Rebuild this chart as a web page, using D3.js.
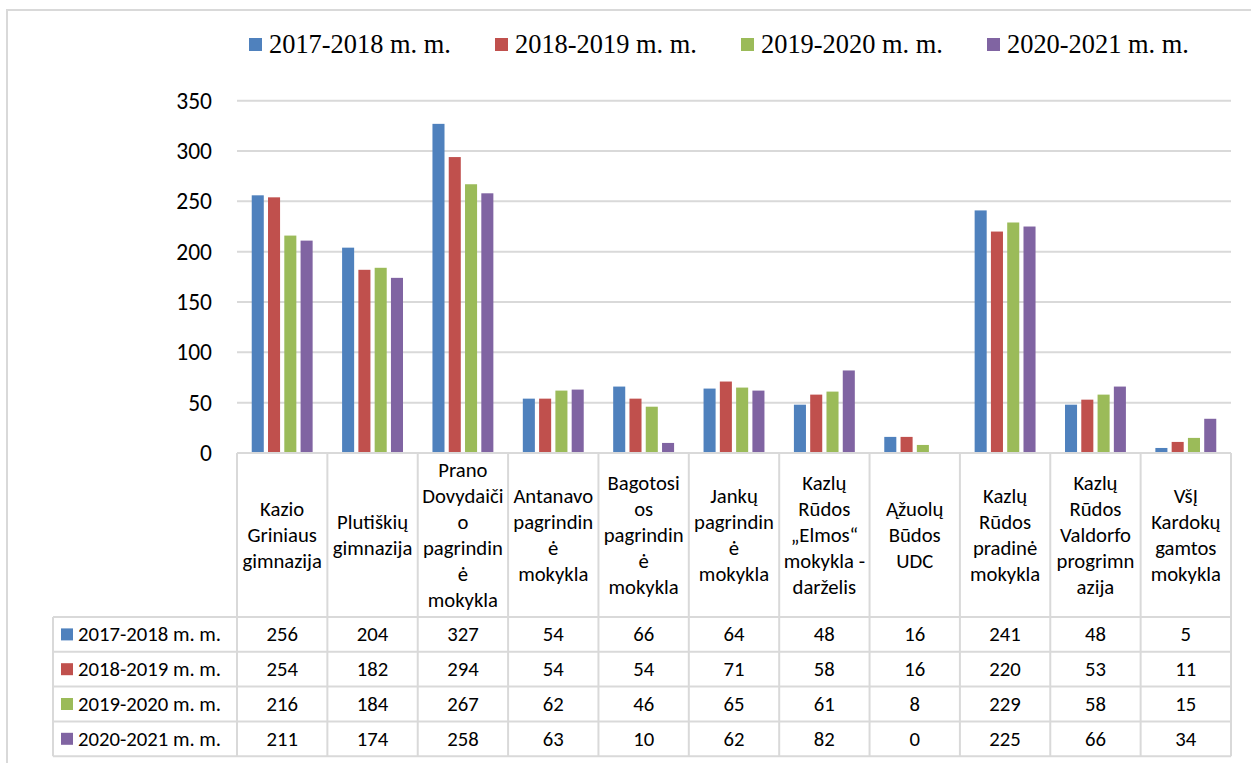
<!DOCTYPE html>
<html>
<head>
<meta charset="utf-8">
<script src="https://cdn.jsdelivr.net/npm/d3@7"></script>
<style>
  body { margin: 0; background: #fff; }
  svg { display: block; }
</style>
</head>
<body>
<div id="chart"></div>
<script>
// chart data
var categories = [
  "Kazio Griniaus gimnazija",
  "Plutiškių gimnazija",
  "Prano Dovydaičio pagrindinė mokykla",
  "Antanavo pagrindinė mokykla",
  "Bagotosios pagrindinė mokykla",
  "Jankų pagrindinė mokykla",
  "Kazlų Rūdos „Elmos“ mokykla - darželis",
  "Ąžuolų Būdos UDC",
  "Kazlų Rūdos pradinė mokykla",
  "Kazlų Rūdos Valdorfo progrimnazija",
  "VšĮ Kardokų gamtos mokykla"
];
// header lines as wrapped in the table
var categoryLines = [
  ["Kazio", "Griniaus", "gimnazija"],
  ["Plutiškių", "gimnazija"],
  ["Prano", "Dovydaiči", "o", "pagrindin", "ė", "mokykla"],
  ["Antanavo", "pagrindin", "ė", "mokykla"],
  ["Bagotosi", "os", "pagrindin", "ė", "mokykla"],
  ["Jankų", "pagrindin", "ė", "mokykla"],
  ["Kazlų", "Rūdos", "„Elmos“", "mokykla -", "darželis"],
  ["Ąžuolų", "Būdos", "UDC"],
  ["Kazlų", "Rūdos", "pradinė", "mokykla"],
  ["Kazlų", "Rūdos", "Valdorfo", "progrimn", "azija"],
  ["VšĮ", "Kardokų", "gamtos", "mokykla"]
];
var seriesNames = ["2017-2018 m. m.", "2018-2019 m. m.", "2019-2020 m. m.", "2020-2021 m. m."];
var s2017 = [256, 204, 327, 54, 66, 64, 48, 16, 241, 48, 5];
var s2018 = [254, 182, 294, 54, 54, 71, 58, 16, 220, 53, 11];
var s2019 = [216, 184, 267, 62, 46, 65, 61, 8, 229, 58, 15];
var s2020 = [211, 174, 258, 63, 10, 62, 82, 0, 225, 66, 34];
var yTicks = [0, 50, 100, 150, 200, 250, 300, 350];

var seriesValues = [s2017, s2018, s2019, s2020];
var colors = ["#4f81bd", "#c0504d", "#9bbb59", "#8064a2"];

var width = 1251, height = 763;
var plot = { left: 237, right: 1231, top: 100.7, bottom: 453 };
var table = { left: 53, headerBottom: 617, rowH: 34.8 };
var gridColor = "#d9d9d9";
var sansFont = "Calibri, Carlito, Lato, sans-serif";
var tableFontSize = 20.7;

var svg = d3.select("#chart")
  .append("svg")
  .attr("width", width)
  .attr("height", height);

// outer chart border
svg.append("rect")
  .attr("x", 7).attr("y", 10)
  .attr("width", 1270).attr("height", 800)
  .attr("fill", "none")
  .attr("stroke", gridColor)
  .attr("stroke-width", 2);

// scales
var x0 = d3.scaleBand()
  .domain(categories)
  .range([plot.left, plot.right]);
var groupPad = x0.bandwidth() * 0.163;
var x1 = d3.scaleBand()
  .domain(seriesNames)
  .range([groupPad, x0.bandwidth() - groupPad])
  .paddingInner(0.26);
var y = d3.scaleLinear()
  .domain([0, 350])
  .range([plot.bottom, plot.top]);

// gridlines
svg.append("g")
  .selectAll("line")
  .data(yTicks.filter(function (d) { return d > 0; }))
  .enter()
  .append("line")
  .attr("x1", plot.left)
  .attr("x2", plot.right)
  .attr("y1", function (d) { return y(d); })
  .attr("y2", function (d) { return y(d); })
  .attr("stroke", gridColor)
  .attr("stroke-width", 2);

// y axis labels
var yAxis = svg.append("g")
  .attr("transform", "translate(" + plot.left + ",0)")
  .call(d3.axisLeft(y).tickValues(yTicks).tickSize(0).tickPadding(25));
yAxis.select(".domain").remove();
yAxis.selectAll("text")
  .attr("font-family", sansFont)
  .attr("font-size", 23.5)
  .attr("fill", "#000");

// bars
var groups = svg.append("g")
  .selectAll("g")
  .data(categories)
  .enter()
  .append("g")
  .attr("transform", function (d) { return "translate(" + x0(d) + ",0)"; });

groups.selectAll("rect")
  .data(function (d, i) {
    return seriesNames.map(function (s, j) {
      return { series: s, value: seriesValues[j][i], color: colors[j] };
    });
  })
  .enter()
  .append("rect")
  .attr("x", function (d) { return x1(d.series); })
  .attr("width", x1.bandwidth())
  .attr("y", function (d) { return y(d.value); })
  .attr("height", function (d) { return y(0) - y(d.value); })
  .attr("fill", function (d) { return d.color; });

// legend at the top
var legend = svg.append("g")
  .selectAll("g")
  .data(seriesNames)
  .enter()
  .append("g")
  .attr("transform", function (d, i) { return "translate(" + (249 + i * 246) + ",38)"; });

legend.append("rect")
  .attr("width", 13)
  .attr("height", 13)
  .attr("fill", function (d, i) { return colors[i]; });

legend.append("text")
  .attr("x", 20)
  .attr("y", 15)
  .attr("font-family", "'Liberation Serif', 'Times New Roman', serif")
  .attr("font-size", 26.4)
  .attr("fill", "#000")
  .text(function (d) { return d; });

// data table
var tbl = svg.append("g");
var tableBottom = table.headerBottom + seriesNames.length * table.rowH;

// horizontal lines
tbl.append("line")
  .attr("x1", plot.left).attr("x2", plot.right)
  .attr("y1", plot.bottom).attr("y2", plot.bottom);
for (var r = 0; r <= seriesNames.length; r++) {
  tbl.append("line")
    .attr("x1", table.left).attr("x2", plot.right)
    .attr("y1", table.headerBottom + r * table.rowH)
    .attr("y2", table.headerBottom + r * table.rowH);
}
// vertical lines
tbl.append("line")
  .attr("x1", table.left).attr("x2", table.left)
  .attr("y1", table.headerBottom).attr("y2", tableBottom);
categories.forEach(function (c) {
  tbl.append("line")
    .attr("x1", x0(c)).attr("x2", x0(c))
    .attr("y1", plot.bottom).attr("y2", tableBottom);
});
tbl.append("line")
  .attr("x1", plot.right).attr("x2", plot.right)
  .attr("y1", plot.bottom).attr("y2", tableBottom);
tbl.selectAll("line")
  .attr("stroke", gridColor)
  .attr("stroke-width", 2);

// header labels
var lineH = 26;
var headerMid = (plot.bottom + table.headerBottom) / 2;
categories.forEach(function (c, i) {
  var lines = categoryLines[i];
  var t = tbl.append("text")
    .attr("font-family", sansFont)
    .attr("font-size", tableFontSize)
    .attr("fill", "#000")
    .attr("text-anchor", "middle");
  lines.forEach(function (l, k) {
    t.append("tspan")
      .attr("x", x0(c) + x0.bandwidth() / 2)
      .attr("y", headerMid + (k - (lines.length - 1) / 2) * lineH + 7)
      .text(l);
  });
});

// rows
seriesNames.forEach(function (s, j) {
  var rowMid = table.headerBottom + (j + 0.5) * table.rowH;
  tbl.append("rect")
    .attr("x", 61)
    .attr("y", rowMid - 6)
    .attr("width", 12)
    .attr("height", 12)
    .attr("fill", colors[j]);
  tbl.append("text")
    .attr("x", 78)
    .attr("y", rowMid + 7)
    .attr("font-family", sansFont)
    .attr("font-size", tableFontSize)
    .attr("fill", "#000")
    .text(s);
  categories.forEach(function (c, i) {
    tbl.append("text")
      .attr("x", x0(c) + x0.bandwidth() / 2)
      .attr("y", rowMid + 7)
      .attr("text-anchor", "middle")
      .attr("font-family", sansFont)
      .attr("font-size", tableFontSize)
      .attr("fill", "#000")
      .text(seriesValues[j][i]);
  });
});
</script>
</body>
</html>
